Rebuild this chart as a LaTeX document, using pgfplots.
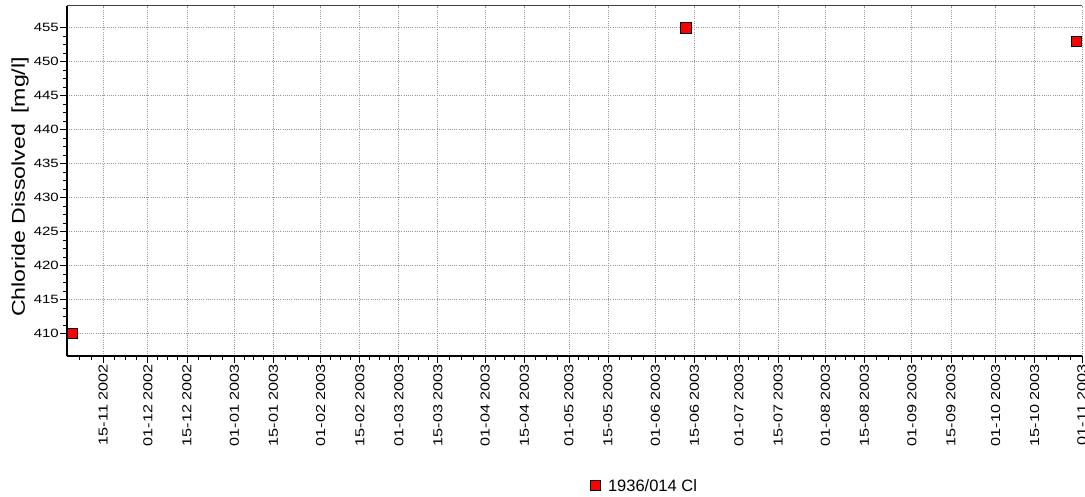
\documentclass[border=0pt]{standalone}
\usepackage{pgfplots}
\pgfplotsset{compat=1.18}
\usepackage{fontspec}
\setmainfont{Liberation Sans}
\newcommand\dl[1]{\scalebox{1.25}[1]{#1}}
\begin{document}
\begin{tikzpicture}
\path[use as bounding box] (0pt,0pt) rectangle (1085pt,496pt);
\begin{axis}[
  at={(67pt,140pt)}, anchor=south west,
  scale only axis, width=1015pt, height=350pt,
  xmin=1, xmax=365, ymin=406.7, ymax=458.2,
  /pgf/number format/assume math mode=true,
  axis x line*=bottom, axis y line*=left,
  axis line style={-},
  x axis line style={line width=2.5pt},
  y axis line style={line width=2pt},
  tick align=outside,
  major tick length=7pt, minor tick length=4pt,
  tick style={black, line width=0.8pt},
  xtick={14,30,44,61,75,92,106,120,134,151,165,181,195,212,226,242,256,273,287,304,318,334,348,365},
  xticklabels={\dl{15-11 2002},\dl{01-12 2002},\dl{15-12 2002},\dl{01-01 2003},\dl{15-01 2003},\dl{01-02 2003},\dl{15-02 2003},\dl{01-03 2003},\dl{15-03 2003},\dl{01-04 2003},\dl{15-04 2003},\dl{01-05 2003},\dl{15-05 2003},\dl{01-06 2003},\dl{15-06 2003},\dl{01-07 2003},\dl{15-07 2003},\dl{01-08 2003},\dl{15-08 2003},\dl{01-09 2003},\dl{15-09 2003},\dl{01-10 2003},\dl{15-10 2003},\dl{01-11 2003}},
  minor xtick={5.5,9.75,18,22,26,33.5,37,40.5,48.25,52.5,56.75,64.5,68,71.5,79.25,83.5,87.75,95.5,99,102.5,109.5,113,116.5,123.5,127,130.5,138.25,142.5,146.75,154.5,158,161.5,169,173,177,184.5,188,191.5,199.25,203.5,207.75,215.5,219,222.5,230,234,238,245.5,249,252.5,260.25,264.5,268.75,276.5,280,283.5,291.25,295.5,299.75,307.5,311,314.5,322,326,330,337.5,341,344.5,352.25,356.5,360.75},
  xticklabel style={font=\fontsize{13}{13}\selectfont, rotate=90, anchor=east, inner sep=1pt},
  ytick={410,415,...,455},
  minor y tick num=3,
  yticklabel={\scalebox{1.25}[1]{\pgfmathprintnumber{\tick}}},
  yticklabel style={font=\fontsize{12}{12}\selectfont, inner sep=1pt},
  xmajorgrids, ymajorgrids,
  major grid style={gray!80, line width=0.8pt, dash pattern=on 1pt off 1.2pt},
  ylabel={\scalebox{1.25}[1]{Chloride Dissolved\hspace{0.45em}[mg/l]}},
  ylabel style={font=\fontsize{18.5}{18.5}\selectfont, at={(axis description cs:0,0.483)}, yshift=47pt, anchor=center},
  legend style={draw=none, fill=none, at={(axis description cs:0.569,-0.371)}, anchor=center,
    font=\fontsize{16.5}{16.5}\selectfont, inner sep=0pt,
    /tikz/every odd column/.append style={column sep=6pt}},
  legend image code/.code={\draw[mark=square*, mark size=5pt, mark options={fill=red, draw=black, line width=0.8pt}] plot coordinates {(0pt,0pt)};},
]
\draw[black!75, line width=1pt] (rel axis cs:0,1) -- (rel axis cs:1,1);
\addplot[only marks, mark=square*, mark size=5.3pt, mark options={fill=red, draw=black, line width=0.9pt}]
  coordinates {(3,410) (223,455) (363,453)};
\addlegendentry{1936/014 Cl}
\end{axis}
\end{tikzpicture}
\end{document}
